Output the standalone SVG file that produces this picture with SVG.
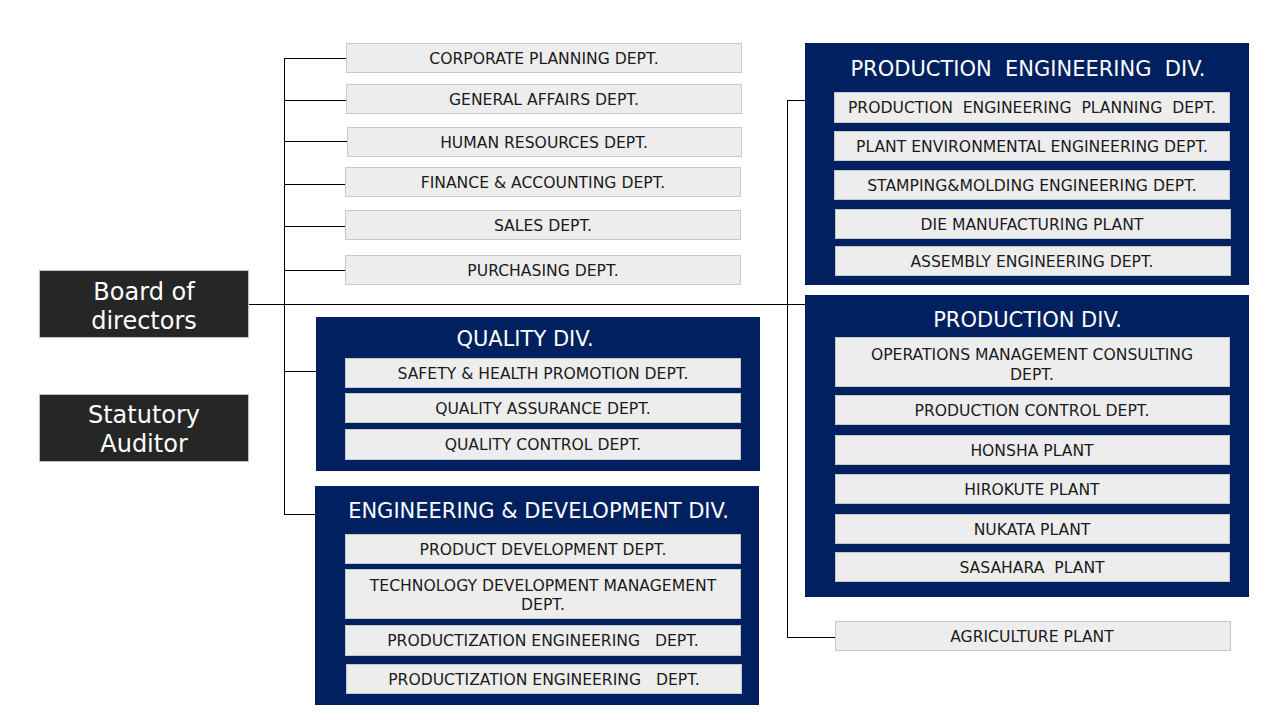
<svg xmlns="http://www.w3.org/2000/svg" width="1280" height="720" viewBox="0 0 1280 720" xml:space="preserve">
<style>
.dept{fill:#EDEDED;stroke:#C8C8C8;stroke-width:1}
.div{fill:#002060}
.top{fill:#262626;stroke:#BFBFBF;stroke-width:1}
.t{font-family:"DejaVu Sans",Verdana,sans-serif;font-size:15.6px;fill:#1a1a1a;text-anchor:middle;white-space:pre}
.h{font-family:"DejaVu Sans",Verdana,sans-serif;font-size:21px;fill:#ffffff;text-anchor:middle;white-space:pre}
.b{font-family:"DejaVu Sans",Verdana,sans-serif;font-size:24px;fill:#ffffff;text-anchor:middle}
.c{stroke:#000;stroke-width:1;fill:none}
</style>
<rect width="1280" height="720" fill="#ffffff"/>
<g id="connectors">
<path class="c" d="M284.5 58V514.5"/>
<path class="c" d="M284 58.5H346M284 100.5H346M284 141.5H347M284 184.5H345M284 226.5H345M284 270.5H345M284 371.5H316M284 514.5H315"/>
<path class="c" d="M248 304.5H805"/>
<path class="c" d="M787.5 100V637.5M787 100.5H805M787 637.5H835"/>
</g>
<g id="board">
<rect class="top" x="39.5" y="270.5" width="209" height="67"/>
<text class="b" x="144" y="300">Board of</text>
<text class="b" x="144" y="329">directors</text>
</g>
<g id="auditor">
<rect class="top" x="39.5" y="394.5" width="209" height="67"/>
<text class="b" x="144" y="423">Statutory</text>
<text class="b" x="144" y="452">Auditor</text>
</g>
<g id="corporate-planning">
<rect class="dept" x="346.5" y="43.5" width="395" height="29"/>
<text class="t" x="544" y="63.5">CORPORATE PLANNING DEPT.</text>
</g>
<g id="general-affairs">
<rect class="dept" x="346.5" y="84.5" width="395" height="29"/>
<text class="t" x="544" y="104.5">GENERAL AFFAIRS DEPT.</text>
</g>
<g id="human-resources">
<rect class="dept" x="347.5" y="127.5" width="394" height="29"/>
<text class="t" x="544" y="147.5">HUMAN RESOURCES DEPT.</text>
</g>
<g id="finance">
<rect class="dept" x="345.5" y="167.5" width="395" height="29"/>
<text class="t" x="543" y="187.5">FINANCE &amp; ACCOUNTING DEPT.</text>
</g>
<g id="sales">
<rect class="dept" x="345.5" y="210.5" width="395" height="29"/>
<text class="t" x="543" y="230.5">SALES DEPT.</text>
</g>
<g id="purchasing">
<rect class="dept" x="345.5" y="255.5" width="395" height="29"/>
<text class="t" x="543" y="275.5">PURCHASING DEPT.</text>
</g>
<g id="quality-div">
<rect class="div" x="316" y="317" width="444" height="154"/>
<text class="h" x="525" y="346">QUALITY DIV.</text>
<rect class="dept" x="345.5" y="358.5" width="395" height="29"/>
<text class="t" x="543" y="378.5">SAFETY &amp; HEALTH PROMOTION DEPT.</text>
<rect class="dept" x="345.5" y="393.5" width="395" height="29"/>
<text class="t" x="543" y="413.5">QUALITY ASSURANCE DEPT.</text>
<rect class="dept" x="345.5" y="429.5" width="395" height="30"/>
<text class="t" x="543" y="450">QUALITY CONTROL DEPT.</text>
</g>
<g id="engineering-div">
<rect class="div" x="315" y="486" width="444" height="219"/>
<text class="h" x="538.5" y="517.5">ENGINEERING &amp; DEVELOPMENT DIV.</text>
<rect class="dept" x="345.5" y="534.5" width="395" height="29"/>
<text class="t" x="543" y="554.5">PRODUCT DEVELOPMENT DEPT.</text>
<rect class="dept" x="345.5" y="569.5" width="395" height="49"/>
<text class="t" x="543" y="590.5">TECHNOLOGY DEVELOPMENT MANAGEMENT</text>
<text class="t" x="543" y="610">DEPT.</text>
<rect class="dept" x="345.5" y="625.5" width="395" height="30"/>
<text class="t" x="543" y="646">PRODUCTIZATION ENGINEERING   DEPT.</text>
<rect class="dept" x="346.5" y="664.5" width="395" height="29"/>
<text class="t" x="544" y="684.5">PRODUCTIZATION ENGINEERING   DEPT.</text>
</g>
<g id="production-engineering-div">
<rect class="div" x="805" y="43" width="444" height="242"/>
<text class="h" x="1028" y="76">PRODUCTION  ENGINEERING  DIV.</text>
<rect class="dept" x="834.5" y="92.5" width="395" height="30"/>
<text class="t" x="1032" y="113">PRODUCTION  ENGINEERING  PLANNING  DEPT.</text>
<rect class="dept" x="834.5" y="131.5" width="395" height="29"/>
<text class="t" x="1032" y="151.5">PLANT ENVIRONMENTAL ENGINEERING DEPT.</text>
<rect class="dept" x="834.5" y="170.5" width="395" height="29"/>
<text class="t" x="1032" y="190.5">STAMPING&amp;MOLDING ENGINEERING DEPT.</text>
<rect class="dept" x="835.5" y="209.5" width="395" height="29"/>
<text class="t" x="1032" y="229.5">DIE MANUFACTURING PLANT</text>
<rect class="dept" x="835.5" y="246.5" width="395" height="29"/>
<text class="t" x="1032" y="266.5">ASSEMBLY ENGINEERING DEPT.</text>
</g>
<g id="production-div">
<rect class="div" x="805" y="295" width="444" height="302"/>
<text class="h" x="1027.5" y="327">PRODUCTION DIV.</text>
<rect class="dept" x="835.5" y="337.5" width="394" height="49"/>
<text class="t" x="1032" y="360">OPERATIONS MANAGEMENT CONSULTING</text>
<text class="t" x="1032" y="379.5">DEPT.</text>
<rect class="dept" x="835.5" y="395.5" width="394" height="29"/>
<text class="t" x="1032" y="415.5">PRODUCTION CONTROL DEPT.</text>
<rect class="dept" x="835.5" y="435.5" width="394" height="29"/>
<text class="t" x="1032" y="455.5">HONSHA PLANT</text>
<rect class="dept" x="835.5" y="474.5" width="394" height="29"/>
<text class="t" x="1032" y="494.5">HIROKUTE PLANT</text>
<rect class="dept" x="835.5" y="514.5" width="394" height="29"/>
<text class="t" x="1032" y="534.5">NUKATA PLANT</text>
<rect class="dept" x="835.5" y="552.5" width="394" height="29"/>
<text class="t" x="1032" y="572.5">SASAHARA  PLANT</text>
</g>
<g id="agriculture-plant">
<rect class="dept" x="835.5" y="621.5" width="395" height="29"/>
<text class="t" x="1032" y="641.5">AGRICULTURE PLANT</text>
</g>
</svg>
